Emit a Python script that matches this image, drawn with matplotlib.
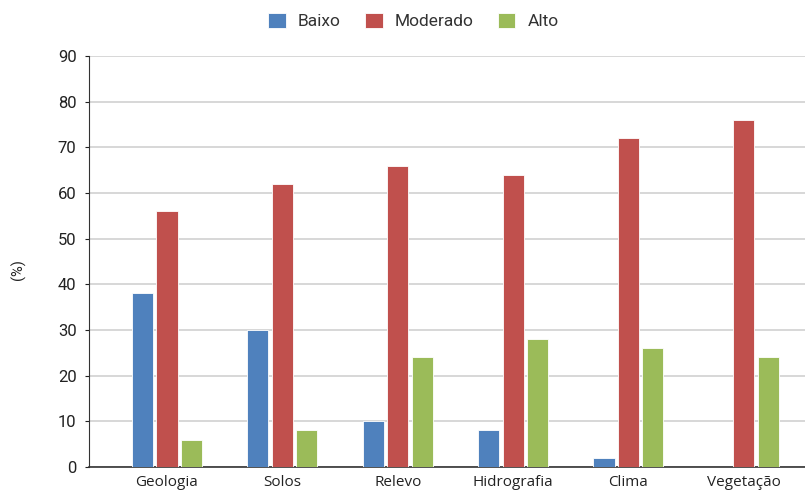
import matplotlib
matplotlib.use("Agg")
import matplotlib.pyplot as plt
import numpy as np

categories = ["Geologia", "Solos", "Relevo", "Hidrografia", "Clima", "Vegetação"]
baixo = [38, 30, 10, 8, 2, 0]
moderado = [56, 62, 66, 64, 72, 76]
alto = [6, 8, 24, 28, 26, 24]
series_names = ["Baixo", "Moderado", "Alto"]
colors = ["#4F81BD", "#C0504D", "#9BBB59"]

plt.rcParams['font.family'] = ['Roboto', 'DejaVu Sans']

fig = plt.figure(figsize=(8.05, 4.92), dpi=100)
ax = fig.add_axes([89 / 805, 25 / 492, 1 - 89 / 805, (467 - 56) / 492])

x = np.arange(len(categories))
w = 0.183
step = 0.212
for k, (vals, name, c) in enumerate(zip([baixo, moderado, alto], series_names, colors)):
    ax.bar(x + (k - 1) * step, vals, width=w, color=c, label=name, zorder=3,
           edgecolor='white', linewidth=0.6)

ax.set_ylim(0, 90)
ax.set_yticks(range(0, 91, 10))
ax.set_xlim(-0.676, 5.53)
ax.set_xticks(x)
ax.set_xticklabels(categories, fontsize=11, color='#222222', family=['Open Sans', 'DejaVu Sans'])
ax.tick_params(axis='y', labelsize=12, length=3, colors='#222222', pad=6)
ax.tick_params(axis='x', length=0, pad=6)
ax.yaxis.grid(True, color='#d4d4d4', linewidth=1.3, zorder=0)
ax.set_axisbelow(True)
for s in ['top', 'right']:
    ax.spines[s].set_visible(False)
ax.spines['left'].set_color('#333333')
ax.spines['bottom'].set_color('#333333')
ax.spines['bottom'].set_linewidth(1.2)
fig.text(18 / 805, 1 - 270 / 492, "(%)", rotation=90, fontsize=10.5, color='#222222',
         ha='center', va='center')

leg = fig.legend(loc='center', bbox_to_anchor=(413.5 / 805, 1 - 21 / 492), ncol=3, frameon=False,
                 fontsize=12.5, handlelength=1.0, handleheight=1.0, columnspacing=1.4,
                 handletextpad=0.7, borderpad=0, borderaxespad=0)
for t in leg.get_texts():
    t.set_color('#333333')

fig.savefig("out.png", dpi=100)
